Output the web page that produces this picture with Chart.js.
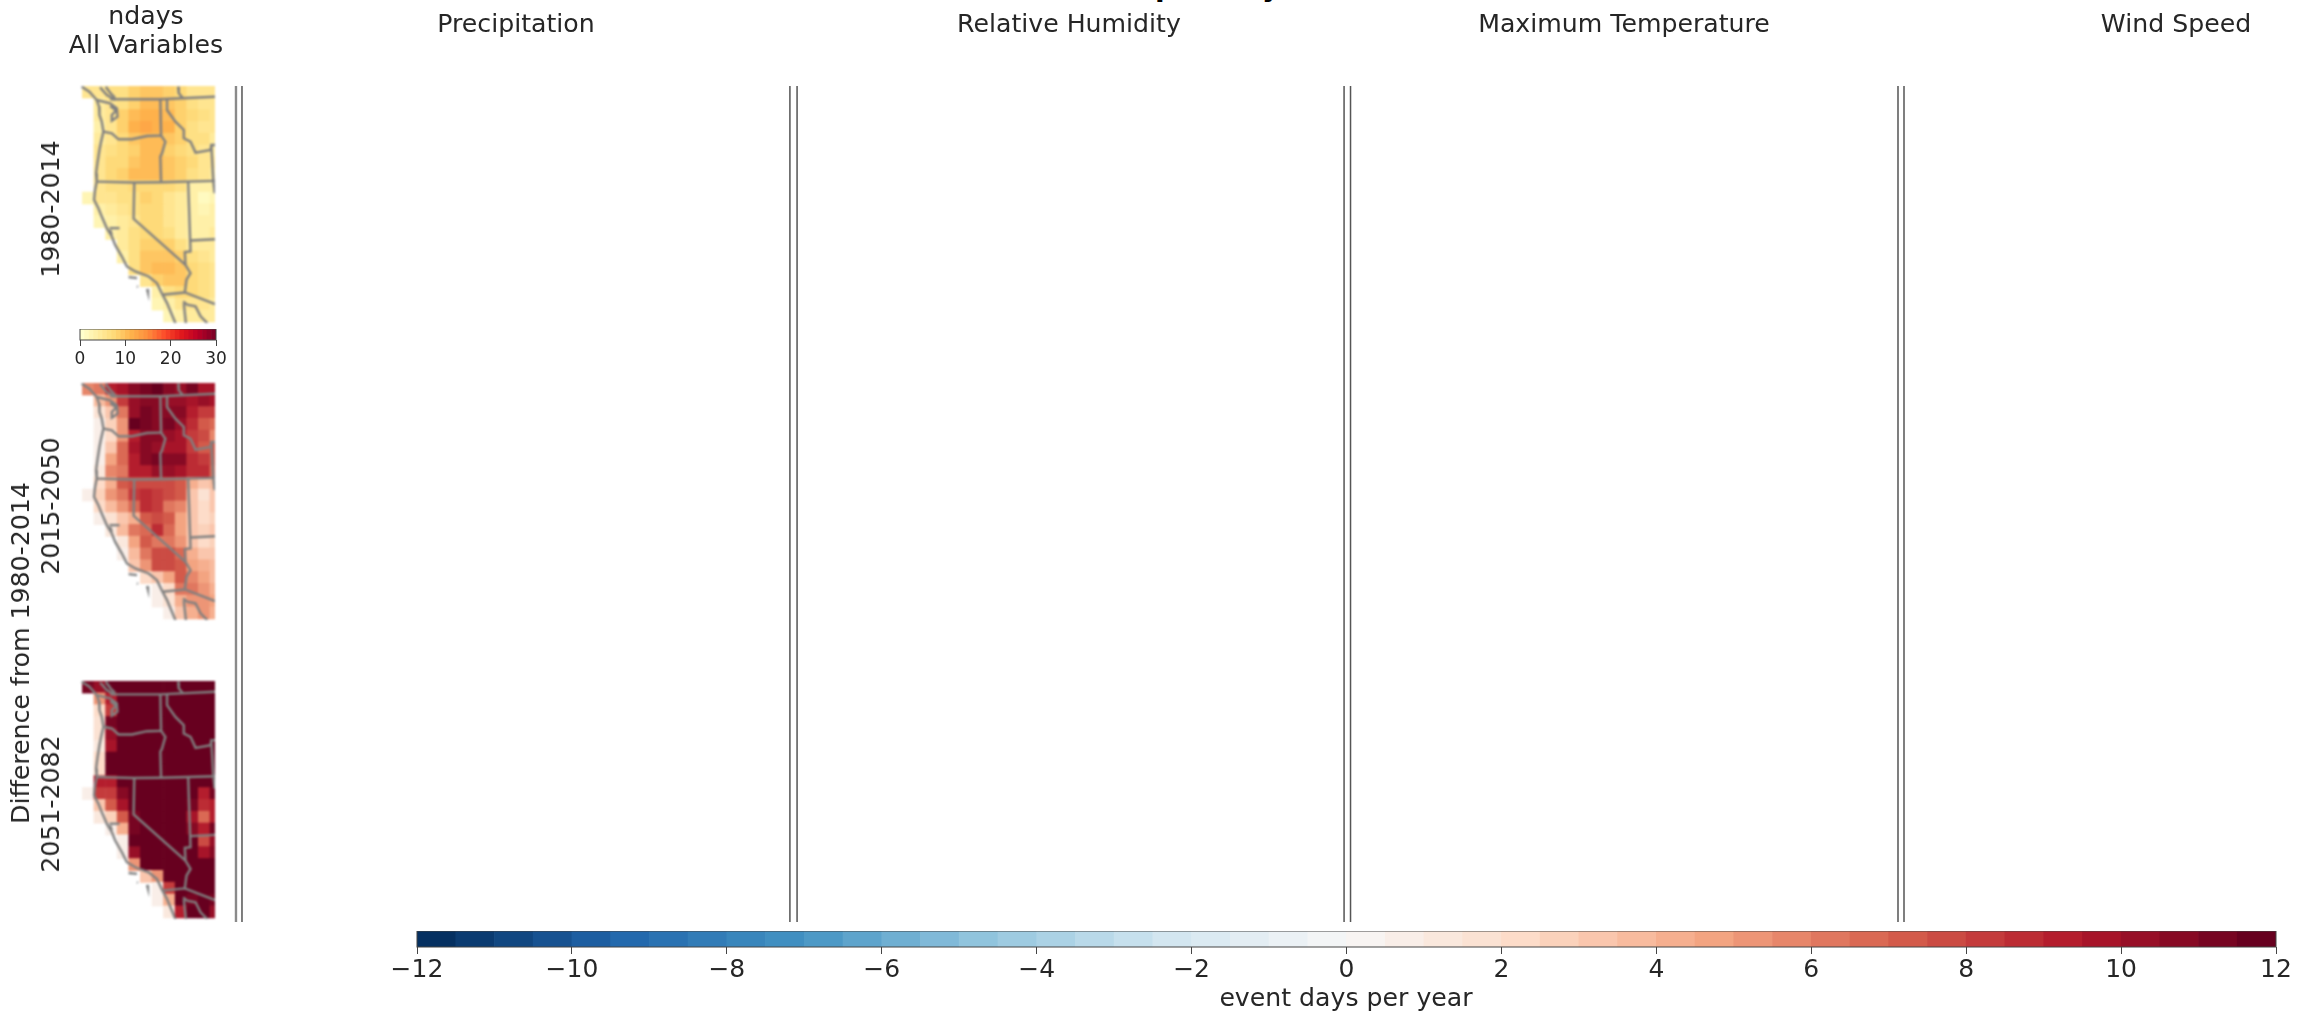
<!DOCTYPE html>
<html>
<head>
<meta charset="utf-8">
<title>ndays</title>
<script src="https://cdn.jsdelivr.net/npm/chart.js@4"></script>
<style>
  html, body { margin: 0; padding: 0; background: #fff; }
  body { position: relative; width: 2309px; height: 1011px; overflow: hidden; font-family: "DejaVu Sans", sans-serif; color: #262626; }
  canvas { position: absolute; }
  canvas.map { filter: blur(0.8px); }
  canvas.cbar { filter: blur(0.4px); }
  .txt { position: absolute; white-space: nowrap; font-size: 25.2px; line-height: 28px; transform: translate(-50%, -50%); filter: blur(0.4px); }
  .rot { transform: translate(-50%, -50%) rotate(-90deg); }
  .sup { position: absolute; top: -27px; font-size: 28px; line-height: 28px; font-weight: bold; color: #000; }
</style>
</head>
<body>
<div class="sup" style="left:1155px">p</div>
<div class="sup" style="left:1262px">y</div>

<div class="txt" style="left:146px;top:16px">ndays</div>
<div class="txt" style="left:146px;top:45px">All Variables</div>
<div class="txt" style="left:516px;top:24px">Precipitation</div>
<div class="txt" style="left:1069px;top:24px">Relative Humidity</div>
<div class="txt" style="left:1624px;top:24px">Maximum Temperature</div>
<div class="txt" style="left:2176px;top:24px">Wind Speed</div>

<div class="txt rot" style="left:51px;top:209px">1980-2014</div>
<div class="txt rot" style="left:51px;top:506px">2015-2050</div>
<div class="txt rot" style="left:51px;top:804px">2051-2082</div>
<div class="txt rot" style="left:21px;top:653px">Difference from 1980-2014</div>
<div class="txt" style="left:1346px;top:998px">event days per year</div>

<canvas id="separators" width="2309" height="1011" style="left:0;top:0"></canvas>
<canvas id="mapHist" class="map" width="134" height="237" style="left:81px;top:86px"></canvas>
<canvas id="mapMid" class="map" width="134" height="237" style="left:81px;top:383px"></canvas>
<canvas id="mapLate" class="map" width="134" height="238" style="left:81px;top:681px"></canvas>
<canvas id="barDays" class="cbar" width="176" height="41" style="left:60px;top:329px"></canvas>
<canvas id="barDiff" class="cbar" width="1939" height="66" style="left:377px;top:931px"></canvas>

<script>
// Grid of the map cells (degrees)
const cellLons = [-124.79, -123.55, -122.30, -121.06, -119.81, -118.57, -117.32, -116.08, -114.83, -113.59, -112.34, -111.10];
const cellLats = [49.6, 48.6, 47.6, 46.6, 45.6, 44.6, 43.6, 42.6, 41.6, 40.6, 39.6, 38.6, 37.6, 36.6, 35.6, 34.6, 33.6, 32.6, 31.6, 30.6];

// 1980-2014, event days per year
const histDays = [
    [5, 5, 6, 6, 8, 9, 9, 8, 7, 5, 5, 5],
    [null, 4, 5, 6, 8, 10, 10, 9, 8, 6.5, 5, 5],
    [null, 4, 5, 8, 10, 11, 11.5, 10, 8, 7, 6, 5.5],
    [null, 3.5, 5, 8, 11, 12.5, 11, 11, 8, 6.5, 5.5, 5],
    [null, 4.5, 5, 7, 9, 10, 10, 9.5, 8, 6.5, 6, 4.5],
    [null, 5, 6, 7, 8, 10, 10, 8, 7.5, 6.5, 5, 4.5],
    [null, 5, 7, 7.5, 9.5, 10, 10.5, 9.5, 8.5, 7, 5, 5],
    [null, 5, 7.5, 8, 10, 10.5, 10.5, 9.5, 8.5, 6.5, 5, 4.5],
    [null, 5, 6, 6, 7, 7.5, 7.5, 7, 6, 3.5, 3, 3.5],
    [2.5, 5, 5.5, 6.5, 6.5, 8, 7, 5.5, 4.5, 3, 1.5, 2.5],
    [null, 3.5, 4, 5.5, 6, 7.5, 7, 5.5, 4, 3, 2.5, 3],
    [null, 2.5, 3, 4.5, 5.5, 7, 7.5, 5.5, 4, 3, 3, 3.5],
    [null, null, 3, 4.5, 6, 7, 7.5, 6, 4, 3.5, 3.5, 4],
    [null, null, null, 4.5, 6, 8.5, 8.5, 8, 6, 4.5, 4, 4],
    [null, null, null, 3.5, 6.5, 9, 9.5, 9, 8, 6, 5, 4],
    [null, null, null, null, 6, 9.5, 10.5, 10, 9.5, 7, 6, 5],
    [null, null, null, null, null, 5.5, 8.5, 9.5, 9.5, 7.5, 6.5, 5.5],
    [null, null, null, null, null, null, 3, 6, 7, 7, 6, 5],
    [null, null, null, null, null, null, 2, 3.5, 5, 5, 5, 4.5],
    [null, null, null, null, null, null, null, 2.5, 3, 4, 4.5, 4]
];

// 2015-2050 minus 1980-2014
const midDiff = [
    [5.5, 6, 9, 9.5, 10.5, 11, 11.5, 10.5, 10, 11, 9.5, 9.5],
    [null, 3.5, 5, 8, 10, 10.5, 10.5, 10, 10, 9.5, 10, 9.5],
    [null, 1.5, 3, 6, 10, 11, 10.5, 10.5, 10.5, 9, 8, 8],
    [null, 0.5, 2.5, 5, 11.5, 11, 10.5, 11, 10, 8.5, 7, 6.5],
    [null, 0.7, 2, 5, 9, 10.5, 10.5, 10, 9.5, 8, 7.5, 5.5],
    [null, 0.7, 3, 6.5, 9.5, 10.5, 10, 9.5, 9.5, 8, 7, 7],
    [null, 0.7, 4.5, 6.5, 9, 10.5, 11, 10.5, 10.5, 8.5, 8, 7],
    [null, 1, 5.5, 6, 9, 9, 10, 10, 9.5, 8.5, 8.5, 6.5],
    [null, 2, 4, 7, 7.5, 7.5, 7.5, 7.5, 7, 4, 3, 3.5],
    [0.7, 2.5, 5, 6, 8, 8.5, 8, 7.5, 7, 3, 1.5, 3],
    [null, 2, 3.5, 5, 6.5, 8.5, 8, 6, 5.5, 3, 2, 3],
    [null, 0.7, 1.5, 3, 4, 7, 7.5, 7, 4.5, 3, 2, 2.5],
    [null, null, 1, 3.5, 6, 6.5, 8.5, 6.5, 4.5, 3, 2.5, 3],
    [null, null, null, 1, 4.5, 7, 6, 6, 5, 3, 2, 2.5],
    [null, null, null, 0.7, 3.5, 6, 7.5, 7.5, 6.5, 4, 3, 3],
    [null, null, null, null, 3, 5, 7.5, 7.5, 7, 4.5, 4, 3.5],
    [null, null, null, null, null, 2, 3, 4.5, 7, 5.5, 4.5, 3.5],
    [null, null, null, null, null, null, 0.7, 2, 6, 6, 5, 4],
    [null, null, null, null, null, null, 0.5, 1.5, 4, 5, 5, 4.5],
    [null, null, null, null, null, null, null, 0.5, 3, 4, 5, 4]
];

// 2051-2082 minus 1980-2014
const lateDiff = [
    [11, 10, 12, 12, 12, 12, 12, 12, 12, 12, 12, 12],
    [null, 5, 9, 12, 12, 12, 12, 12, 12, 12, 12, 12],
    [null, 2, 8, 12, 12, 12, 12, 12, 12, 12, 12, 12],
    [null, 1.5, 11, 12, 12, 12, 12, 12, 12, 12, 12, 12],
    [null, 1.5, 10, 12, 12, 12, 12, 12, 12, 12, 12, 12],
    [null, 1, 9.5, 12, 12, 12, 12, 12, 12, 12, 12, 12],
    [null, 2, 12, 12, 12, 12, 12, 12, 12, 12, 12, 12],
    [null, 2, 12, 12, 12, 12, 12, 12, 12, 12, 12, 12],
    [null, 9, 9, 11.5, 12, 12, 12, 12, 12, 12, 12, 12],
    [0.8, 8, 8, 10.5, 12, 12, 12, 12, 12, 12, 9, 11],
    [null, 3, 7, 9.5, 12, 12, 12, 12, 11.5, 11, 8.5, 9],
    [null, 1, 2.5, 7, 11, 12, 12, 12, 11.5, 9.5, 6.5, 9],
    [null, null, 0.7, 4, 11, 12, 12, 12, 11.5, 10.5, 9, 11],
    [null, null, null, 0.7, 12, 12, 12, 12, 12, 12, 7.5, 10],
    [null, null, null, 0.7, 10, 12, 12, 12, 12, 12, 9.5, 10.5],
    [null, null, null, null, 5, 12, 12, 12, 12, 12, 12, 12],
    [null, null, null, null, null, 3, 5, 12, 12, 12, 12, 12],
    [null, null, null, null, null, null, 0.7, 8, 12, 12, 12, 12],
    [null, null, null, null, null, null, 0.7, 4, 12, 11, 12, 11],
    [null, null, null, null, null, null, null, 1, 9, 11.5, 12, 10]
];

// Coast and state lines [lon, lat]
const borderLines = [
    [[-125.49,50.05],[-124.66,49.63],[-123.87,48.92],[-123.62,48.36],[-123.58,47.65],[-123.33,47.08],[-123.15,46.24],[-123.40,45.39],[-123.58,44.68],[-123.80,43.55],[-123.94,42.71],[-123.87,42],[-124.05,41.29],[-124.16,40.45],[-123.69,39.74],[-123.33,39.03],[-122.79,38.05],[-122.25,37.34],[-121.89,36.63],[-121.17,35.64],[-120.63,34.80],[-119.73,34.37],[-118.29,33.95],[-117.40,33.38],[-116.86,32.48],[-116.32,31.69],[-115.42,29.99]],
    [[-123.51,49.99],[-122.79,49.34],[-121.89,48.92]],
    [[-122.9,50.05],[-122.4,49.5],[-121.9,49.1]],
    [[-123.87,48.92],[-122.43,48.64],[-121.71,48.21],[-121.64,47.51],[-122.25,47.17],[-122.25,47.65],[-121.78,48.02],[-122.43,48.41]],
    [[-122.43,48.98],[-117.04,48.98],[-111.17,49.2]],
    [[-123.15,46.24],[-122.25,46.10],[-121.53,45.59],[-120.09,45.59],[-118.47,45.87],[-116.96,45.90]],
    [[-117.04,48.98],[-116.96,45.90],[-116.50,45.39],[-116.86,44.40],[-117.04,44.12],[-116.96,41.94]],
    [[-123.87,42],[-119.91,41.92],[-116.96,41.94],[-111.17,42.06]],
    [[-116.32,48.98],[-116.32,48.07],[-115.42,47.08],[-114.52,46.38],[-114.52,45.67],[-113.80,45.39],[-113.26,44.46],[-111.64,44.68],[-111.57,45.11],[-111.17,45.11]],
    [[-111.57,45.11],[-111.35,42.06],[-111.21,41.01]],
    [[-115.13,50.05],[-115.06,49.49],[-114.59,49.06]],
    [[-119.84,41.92],[-119.91,38.84],[-114.34,34.94]],
    [[-114.05,42],[-113.80,36.07],[-114.41,36.01],[-114.34,34.94],[-113.80,34.23],[-114.23,33.67],[-114.41,32.59]],
    [[-116.86,32.40],[-114.41,32.59],[-111.17,31.60]],
    [[-113.80,37],[-111.17,37.11]],
    [[-114.59,31.83],[-114.16,31.55],[-113.26,31.41],[-112.72,30.56],[-112,29.99]],
    [[-114.52,31.66],[-114.30,29.99]],
    [[-122.50,38.05],[-121.42,38.05]],
    [[-122.43,37.9],[-122.25,37.48]],
    [[-120.45,33.89],[-119.55,33.81]],
    [[-119.55,33.1],[-119.45,33.07]],
    [[-118.47,32.88],[-118.37,32.59]]
];

// Colour bars: bin centres and tick steps
const dayBins = [0.5, 1.5, 2.5, 3.5, 4.5, 5.5, 6.5, 7.5, 8.5, 9.5, 10.5, 11.5, 12.5, 13.5, 14.5, 15.5, 16.5, 17.5, 18.5, 19.5, 20.5, 21.5, 22.5, 23.5, 24.5, 25.5, 26.5, 27.5, 28.5, 29.5];
const diffBins = [-11.75, -11.25, -10.75, -10.25, -9.75, -9.25, -8.75, -8.25, -7.75, -7.25, -6.75, -6.25, -5.75, -5.25, -4.75, -4.25, -3.75, -3.25, -2.75, -2.25, -1.75, -1.25, -0.75, -0.25,
    0.25, 0.75, 1.25, 1.75, 2.25, 2.75, 3.25, 3.75, 4.25, 4.75, 5.25, 5.75, 6.25, 6.75, 7.25, 7.75, 8.25, 8.75, 9.25, 9.75, 10.25, 10.75, 11.25, 11.75];

// Vertical double rules, percent of the figure width
const ruleXs = [10.22, 10.48, 34.21, 34.52, 58.21, 58.49, 82.2, 82.46];

const ylOrRd = ['#ffffcc', '#ffeda0', '#fed976', '#feb24c', '#fd8d3c', '#fc4e2a', '#e31a1c', '#bd0026', '#800026'];
const rdBuR = ['#053061', '#2166ac', '#4393c3', '#92c5de', '#d1e5f0', '#f7f7f7', '#fddbc7', '#f4a582', '#d6604d', '#b2182b', '#67001f'];

const FONT = '"DejaVu Sans", sans-serif';
const TICK_COLOR = '#262626';

function hexToRgb(hex) {
    return [1, 3, 5].map(i => parseInt(hex.slice(i, i + 2), 16));
}

// Discrete colour, same idea as a BoundaryNorm on a matplotlib colormap
function binColor(value, ramp, lo, hi, nBins) {
    const bin = Math.min(nBins - 1, Math.max(0, Math.floor((value - lo) / (hi - lo) * nBins)));
    const pos = bin / (nBins - 1) * (ramp.length - 1);
    const i = Math.min(ramp.length - 2, Math.floor(pos));
    const a = hexToRgb(ramp[i]), b = hexToRgb(ramp[i + 1]);
    const c = a.map((v, k) => Math.round(v + (b[k] - v) * (pos - i)));
    return `rgb(${c[0]},${c[1]},${c[2]})`;
}

function dayColor(v) { return binColor(v, ylOrRd, 0, 30, 30); }
function diffColor(v) { return binColor(v, rdBuR, -12, 12, 48); }

function drawMap(canvasId, grid, colorOf) {
    const cells = [];
    const colors = [];
    grid.forEach((row, r) => row.forEach((v, c) => {
        if (v === null) return;
        cells.push({ x: cellLons[c], y: [cellLats[r] - 0.51, cellLats[r] + 0.51] });
        colors.push(colorOf(v));
    }));
    const lines = borderLines.map(pts => ({
        type: 'line',
        data: pts.map(p => ({ x: p[0], y: p[1] })),
        borderColor: '#808080',
        borderWidth: 2.4,
        pointRadius: 0,
        tension: 0,
        fill: false,
        order: 0
    }));
    new Chart(document.getElementById(canvasId), {
        data: {
            datasets: [{
                type: 'bar',
                data: cells,
                backgroundColor: colors,
                borderWidth: 0,
                barPercentage: 1,
                categoryPercentage: 1,
                order: 1
            }, ...lines]
        },
        options: {
            responsive: false,
            animation: false,
            layout: { padding: 0 },
            plugins: { legend: { display: false }, tooltip: { enabled: false } },
            scales: {
                x: { type: 'linear', display: false, offset: false, min: -125.56, max: -111.17 },
                y: { type: 'linear', display: false, min: 30.0, max: 50.11 }
            }
        }
    });
}

const frame = {
    id: 'frame',
    afterDatasetsDraw(chart) {
        const { ctx, chartArea: a } = chart;
        ctx.save();
        ctx.strokeStyle = '#444';
        ctx.lineWidth = 1;
        ctx.strokeRect(a.left, a.top, a.right - a.left, a.bottom - a.top);
        ctx.restore();
    }
};

function drawColorBar(canvasId, bins, colorOf, o) {
    new Chart(document.getElementById(canvasId), {
        type: 'bar',
        data: {
            datasets: [{
                data: bins.map(b => ({ x: b, y: [0, 1] })),
                backgroundColor: bins.map(colorOf),
                borderWidth: 0,
                barPercentage: 1,
                categoryPercentage: 1
            }]
        },
        plugins: [frame],
        options: {
            responsive: false,
            animation: false,
            layout: { padding: { left: o.pad, right: o.pad, top: 0, bottom: 0 } },
            plugins: { legend: { display: false }, tooltip: { enabled: false } },
            scales: {
                x: {
                    type: 'linear',
                    offset: false,
                    min: o.min,
                    max: o.max,
                    afterFit: s => { s.height = o.axisHeight; },
                    border: { display: false },
                    grid: { offset: false, drawOnChartArea: false, drawTicks: true, tickLength: o.tickLength, tickColor: '#444' },
                    ticks: {
                        stepSize: o.step,
                        autoSkip: false,
                        maxRotation: 0,
                        padding: o.tickPad,
                        color: TICK_COLOR,
                        font: { family: FONT, size: o.fontSize },
                        callback: v => String(v).replace('-', '\u2212')
                    }
                },
                y: { display: false, min: 0, max: 1 }
            }
        }
    });
}

function drawRules() {
    new Chart(document.getElementById('separators'), {
        type: 'scatter',
        data: {
            datasets: ruleXs.map((x, i) => ({
                data: [{ x: x, y: 8.5 }, { x: x, y: 91.2 }],
                showLine: true,
                pointRadius: 0,
                borderColor: i === 0 ? '#8a8a8a' : '#555',
                borderWidth: i === 0 ? 2.4 : 1.5
            }))
        },
        options: {
            responsive: false,
            animation: false,
            plugins: { legend: { display: false }, tooltip: { enabled: false } },
            scales: {
                x: { type: 'linear', display: false, min: 0, max: 100 },
                y: { type: 'linear', display: false, min: 0, max: 100, reverse: true }
            }
        }
    });
}

drawRules();
drawMap('mapHist', histDays, dayColor);
drawMap('mapMid', midDiff, diffColor);
drawMap('mapLate', lateDiff, diffColor);
drawColorBar('barDays', dayBins, dayColor, { min: 0, max: 30, step: 10, pad: 20, axisHeight: 30, tickLength: 6, tickPad: 3, fontSize: 17 });
drawColorBar('barDiff', diffBins, diffColor, { min: -12, max: 12, step: 2, pad: 40, axisHeight: 50, tickLength: 7, tickPad: 1, fontSize: 25 });
</script>
</body>
</html>
